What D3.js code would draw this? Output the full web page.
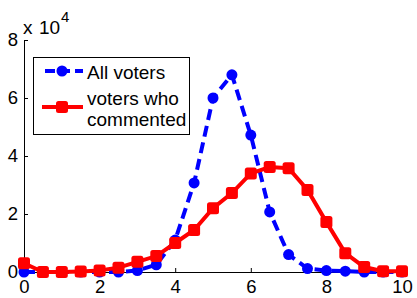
<!DOCTYPE html>
<html>
<head>
<meta charset="utf-8">
<script src="https://cdn.jsdelivr.net/npm/d3@7"></script>
<style>
  body { margin: 0; background: #fff; }
  text { font-family: "Liberation Sans", Arial, sans-serif; }
</style>
</head>
<body>
<svg id="chart" width="417" height="298"></svg>
<script>
const xs = [0, 0.5, 1, 1.5, 2, 2.5, 3, 3.5, 4, 4.5, 5, 5.5, 6, 6.5, 7, 7.5, 8, 8.5, 9, 9.5, 10];
const allVoters = [0, 0, 0, 0, 0, 0, 500, 2500, 11000, 30700, 60000, 68000, 47200, 20700, 6000, 1200, 500, 300, 0, 0, 0];
const commented = [3000, 0, 0, 200, 500, 1500, 3500, 5500, 10000, 14500, 22000, 27200, 34000, 36200, 35800, 28300, 17200, 6500, 1700, 300, 300];
const xTicks = [0, 2, 4, 6, 8, 10];
const yTicks = [0, 2, 4, 6, 8];

const svg = d3.select("#chart");
const margin = { top: 40, right: 15, bottom: 26, left: 24 };
const width = 417 - margin.left - margin.right;
const height = 298 - margin.top - margin.bottom;

const x = d3.scaleLinear().domain([0, 10]).range([margin.left, margin.left + width]);
const y = d3.scaleLinear().domain([0, 80000]).range([margin.top + height, margin.top]);

// Axes
const xAxis = svg.append("g")
	.attr("transform", `translate(0,${margin.top + height})`)
	.call(d3.axisBottom(x).tickValues(xTicks).tickSize(-4).tickPadding(8).tickFormat(d3.format("d")));
const yAxis = svg.append("g")
	.attr("transform", `translate(${margin.left},0)`)
	.call(d3.axisLeft(y).tickValues(yTicks.map((d) => d * 1e4)).tickSize(-4).tickPadding(6).tickFormat((d) => d / 1e4));

for (const ax of [xAxis, yAxis]) {
	ax.select(".domain").attr("stroke", "#000").attr("stroke-width", 1);
	ax.selectAll(".tick line").attr("stroke", "#000");
	ax.selectAll("text").attr("font-size", 18.5).attr("fill", "#000")
		.style("font-family", "'Liberation Sans', Arial, sans-serif");
}

// exponent label
svg.append("text").attr("x", 23).attr("y", 34).attr("font-size", 19).text("x");
svg.append("text").attr("x", 39).attr("y", 34).attr("font-size", 19).text("10");
svg.append("text").attr("x", 61).attr("y", 22).attr("font-size", 15).text("4");

const line = d3.line().x((d, i) => x(xs[i])).y((d) => y(d));

// blue dashed series
svg.append("path")
	.datum(allVoters)
	.attr("fill", "none")
	.attr("stroke", "#0000ff")
	.attr("stroke-width", 4)
	.attr("stroke-dasharray", "11,6")
	.attr("d", line);
svg.append("g").selectAll("circle")
	.data(allVoters)
	.join("circle")
	.attr("cx", (d, i) => x(xs[i]))
	.attr("cy", (d) => y(d))
	.attr("r", 5.5)
	.attr("fill", "#0000ff");

// red solid series
svg.append("path")
	.datum(commented)
	.attr("fill", "none")
	.attr("stroke", "#ff0000")
	.attr("stroke-width", 4)
	.attr("d", line);
svg.append("g").selectAll("rect")
	.data(commented)
	.join("rect")
	.attr("x", (d, i) => x(xs[i]) - 6)
	.attr("y", (d) => y(d) - 6)
	.attr("width", 12)
	.attr("height", 12)
	.attr("rx", 2.5)
	.attr("fill", "#ff0000");

// legend
const lg = svg.append("g");
lg.append("rect")
	.attr("x", 33.5).attr("y", 57.5).attr("width", 156).attr("height", 77)
	.attr("fill", "#fff").attr("stroke", "#000").attr("stroke-width", 1);
lg.append("line")
	.attr("x1", 45).attr("x2", 83).attr("y1", 71).attr("y2", 71)
	.attr("stroke", "#0000ff").attr("stroke-width", 4).attr("stroke-dasharray", "10,5");
lg.append("circle").attr("cx", 62).attr("cy", 71).attr("r", 5.5).attr("fill", "#0000ff");
lg.append("text").attr("x", 87).attr("y", 79).attr("font-size", 19).text("All voters");
lg.append("line")
	.attr("x1", 42).attr("x2", 83).attr("y1", 107).attr("y2", 107)
	.attr("stroke", "#ff0000").attr("stroke-width", 4);
lg.append("rect").attr("x", 56).attr("y", 101).attr("width", 12).attr("height", 12).attr("rx", 2.5).attr("fill", "#ff0000");
lg.append("text").attr("x", 87).attr("y", 105).attr("font-size", 19).text("voters who");
lg.append("text").attr("x", 87).attr("y", 126).attr("font-size", 19).text("commented");
</script>
</body>
</html>
